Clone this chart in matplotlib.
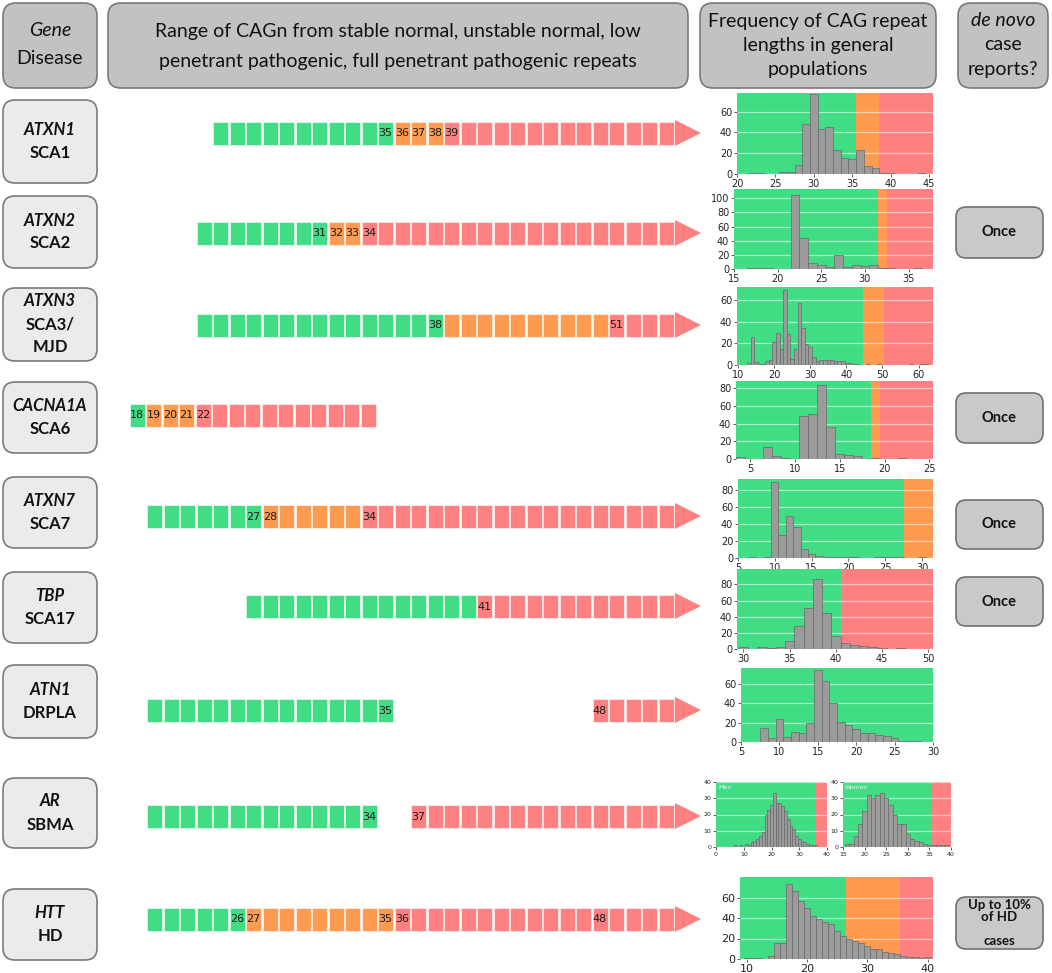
import matplotlib
matplotlib.use("Agg")
import matplotlib.pyplot as plt
from matplotlib.patches import FancyBboxPatch

# ---------------------------------------------------------------- data
genes = ["ATXN1", "ATXN2", "ATXN3", "CACNA1A", "ATXN7", "TBP", "ATN1", "AR", "HTT"]
diseases = ["SCA1", "SCA2", "SCA3/\nMJD", "SCA6", "SCA7", "SCA17", "DRPLA", "SBMA", "HD"]
de_novo = ["", "Once", "", "Once", "Once", "Once", "", "", "Up to 10%\nof HD\n\ncases"]

header_texts = [
    [("Gene", "italic"), ("Disease", "normal")],
    [("Range of CAGn from stable normal, unstable normal, low", "normal"),
     ("penetrant pathogenic, full penetrant pathogenic repeats", "normal")],
    [("Frequency of CAG repeat", "normal"), ("lengths in general", "normal"), ("populations", "normal")],
    [("de novo", "italic"), ("case", "normal"), ("reports?", "normal")],
]

# repeat schematic: g stable normal, o unstable normal / low penetrant, r pathogenic, _ not drawn
repeat_segments = [
    [("g", 11), ("o", 3), ("r", 14)],
    [("g", 8), ("o", 2), ("r", 19)],
    [("g", 15), ("o", 10), ("r", 4)],
    [("g", 1), ("o", 3), ("r", 11)],
    [("g", 7), ("o", 6), ("r", 19)],
    [("g", 14), ("r", 12)],
    [("g", 15), ("_", 12), ("r", 5)],
    [("g", 14), ("_", 2), ("r", 16)],
    [("g", 6), ("o", 9), ("r", 17)],
]
repeat_labels = [
    {10: "35", 11: "36", 12: "37", 13: "38", 14: "39"},
    {7: "31", 8: "32", 9: "33", 10: "34"},
    {14: "38", 25: "51"},
    {0: "18", 1: "19", 2: "20", 3: "21", 4: "22"},
    {6: "27", 7: "28", 13: "34"},
    {14: "41"},
    {14: "35", 27: "48"},
    {13: "34", 16: "37"},
    {5: "26", 6: "27", 14: "35", 15: "36", 27: "48"},
]
has_arrow = [True, True, True, False, True, True, True, True, True]

# population histograms: repeat length -> count
sca1_len = [22, 23, 26, 27, 28, 29, 30, 31, 32, 33, 34, 35, 36, 37, 38, 39, 40, 44]
sca1_cnt = [1, 1, 2, 2, 9, 48, 77, 43, 45, 23, 15, 14, 23, 8, 6, 1, 1, 1]
sca2_len = [17, 18, 19, 22, 23, 24, 25, 26, 27, 28, 29, 30, 31, 32, 33, 36]
sca2_cnt = [1, 1, 1, 104, 44, 9, 6, 3, 20, 3, 6, 4, 5, 2, 2, 1]
sca3_len = [13, 14, 15, 16, 17, 18, 19, 20, 21, 22, 23, 24, 25, 26, 27, 28, 29, 30,
            31, 32, 33, 34, 35, 36, 37, 38, 39, 40, 41, 42, 43, 46, 49, 58, 61, 62]
sca3_cnt = [2, 26, 3, 1, 1, 4, 5, 21, 30, 15, 69, 29, 6, 15, 57, 34, 19, 17,
            7, 4, 5, 5, 5, 5, 4, 4, 4, 2, 2, 1, 1, 1, 1, 1, 1, 1]
sca6_len = [4, 7, 8, 9, 11, 12, 13, 14, 15, 16, 17, 19, 22]
sca6_cnt = [2, 13, 3, 1, 49, 51, 83, 36, 6, 4, 3, 1, 1]
sca7_len = [7, 9, 10, 11, 12, 13, 14, 15, 16, 17, 18, 19, 20, 21, 24, 25, 26, 27, 30]
sca7_cnt = [1, 1, 90, 27, 49, 37, 11, 5, 2, 1, 1, 1, 1, 1, 1, 1, 1, 1, 1]
sca17_len = [30, 32, 33, 34, 35, 36, 37, 38, 39, 40, 41, 42, 43, 44, 45, 47]
sca17_cnt = [3, 3, 1, 2, 10, 29, 51, 87, 44, 16, 8, 5, 4, 3, 1, 1]
drpla_len = [8, 9, 10, 11, 12, 13, 14, 15, 16, 17, 18, 19, 20, 21, 22, 23, 24, 25, 26, 27, 28]
drpla_cnt = [14, 4, 24, 5, 10, 9, 20, 74, 63, 40, 21, 17, 13, 9, 9, 7, 6, 4, 1, 1, 1]
sbma_men_len = [7, 9, 11, 12, 13, 14, 15, 16, 17, 18, 19, 20, 21, 22, 23, 24, 25, 26,
                27, 28, 29, 30, 31, 32, 33, 34, 35, 36]
sbma_men_cnt = [1, 1, 2, 1, 3, 4, 5, 7, 9, 20, 23, 26, 33, 27, 27, 25, 22, 17,
                13, 11, 7, 5, 4, 3, 2, 1, 1, 1]
sbma_women_len = [16, 17, 18, 19, 20, 21, 22, 23, 24, 25, 26, 27, 28, 29, 30, 31, 32,
                  33, 34, 35, 36, 37, 38, 39]
sbma_women_cnt = [2, 2, 7, 14, 22, 32, 30, 32, 33, 30, 26, 20, 14, 14, 8, 5, 4,
                  3, 2, 1, 1, 1, 1, 1]
hd_len = [10, 11, 12, 14, 15, 16, 17, 18, 19, 20, 21, 22, 23, 24, 25, 26, 27, 28,
          29, 30, 31, 32, 33, 34, 35, 36, 37, 38, 39, 40]
hd_cnt = [1, 1, 1, 3, 16, 16, 73, 66, 57, 50, 42, 39, 36, 34, 27, 22, 20, 18,
          16, 13, 10, 10, 7, 6, 5, 3, 2, 2, 1, 2]

# category cut-offs in the histograms and the zone order
sca1_cuts, sca1_zones = [35.5, 38.5], ["g", "o", "r"]
sca2_cuts, sca2_zones = [31.5, 32.5], ["g", "o", "r"]
sca3_cuts, sca3_zones = [44.5, 50.5], ["g", "o", "r"]
sca6_cuts, sca6_zones = [18.5, 19.5], ["g", "o", "r"]
sca7_cuts, sca7_zones = [27.5], ["g", "o"]
sca17_cuts, sca17_zones = [40.5], ["g", "r"]
drpla_cuts, drpla_zones = [], ["g"]
sbma_cuts, sbma_zones = [35.5], ["g", "r"]
hd_cuts, hd_zones = [26.5, 35.5], ["g", "o", "r"]

# ---------------------------------------------------------------- style / layout
W, H = 1052, 973
ZC = {"g": "#40DD84", "o": "#FF9B50", "r": "#FF8080"}
FONT = "Lato"

fig = plt.figure(figsize=(W / 100, H / 100), dpi=100)
ax = fig.add_axes([0, 0, 1, 1])
ax.set_xlim(0, W)
ax.set_ylim(H, 0)
ax.axis("off")


def rbox(x0, y0, x1, y1, fc, ec, r=12, lw=1.2):
    ax.add_patch(FancyBboxPatch((x0, y0), x1 - x0, y1 - y0,
                                boxstyle=f"round,pad=0,rounding_size={r}",
                                fc=fc, ec=ec, lw=lw, zorder=2))


# header
header_boxes = [(3, 3, 97, 88), (108, 3, 688, 88), (700, 3, 936, 88), (958, 3, 1048, 88)]
header_line_y = [[31, 58], [31, 61], [21, 45, 69], [21, 45, 69]]
for (x0, y0, x1, y1), lines, ys in zip(header_boxes, header_texts, header_line_y):
    rbox(x0, y0, x1, y1, "#c2c2c2", "#7a7a7a", r=13)
    for (t, st), yy in zip(lines, ys):
        ax.text((x0 + x1) / 2, yy, t, ha="center", va="center", fontsize=14,
                style=st, family=FONT, color="#111111", zorder=3)

# row label boxes
label_box_y = [(100, 183), (196, 268), (288, 361), (382, 453), (477, 548),
               (572, 643), (665, 738), (778, 848), (889, 960)]
for g, d, (y0, y1) in zip(genes, diseases, label_box_y):
    rbox(3, y0, 97, y1, "#ebebeb", "#7a7a7a", r=12)
    lines = [(g, "italic")] + [(s, "normal") for s in d.split("\n")]
    yc = (y0 + y1) / 2
    step = 23
    for k, (t, st) in enumerate(lines):
        yy = yc + (k - (len(lines) - 1) / 2) * step
        ax.text(50, yy, t, ha="center", va="center", fontsize=12, weight="bold",
                style=st, family=FONT, color="#111111", zorder=3)

# de novo boxes
denovo_box_y = [None, (207, 258), None, (393, 443), (500, 549), (577, 626),
                None, None, (897, 949)]
for txt, yy in zip(de_novo, denovo_box_y):
    if not txt:
        continue
    y0, y1 = yy
    rbox(956, y0, 1043, y1, "#c9c9c9", "#707070", r=10)
    lines = txt.split("\n")
    yc = (y0 + y1) / 2
    step = 12 if len(lines) > 1 else 0
    fs = 9.5 if len(lines) > 1 else 10.5
    for k, t in enumerate(lines):
        ax.text(999.5, yc + (k - (len(lines) - 1) / 2) * step, t, ha="center",
                va="center", fontsize=fs, weight="bold", family=FONT,
                color="#111111", zorder=3)

# repeat schematics
bar_y = [133, 233, 325, 415, 516, 606, 710, 816, 919]
pitch, bw, bh = 16.5, 15.0, 23.0
for i, segs in enumerate(repeat_segments):
    codes = []
    for c, n in segs:
        codes += [c] * n
    n = len(codes)
    x0 = 675 - n * pitch if has_arrow[i] else 129.5
    yc = bar_y[i]
    idx = [k for k, c in enumerate(codes) if c != "_"]
    xs = [x0 + k * pitch + bw / 2 for k in idx]
    ax.bar(xs, [bh] * len(xs), width=bw, bottom=yc - bh / 2,
           color=[ZC[codes[k]] for k in idx], edgecolor="#ffffff", lw=0.4, zorder=2)
    for k, lab in repeat_labels[i].items():
        ax.text(x0 + k * pitch + bw / 2, yc + 0.5, lab, ha="center", va="center",
                fontsize=8, color="#1a1a1a", zorder=3)
    if has_arrow[i]:
        xe = x0 + n * pitch
        ax.fill([xe, xe + 26, xe], [yc - 13, yc, yc + 13], color=ZC["r"], lw=0, zorder=2)


# histograms
def hist(rect, lens, cnts, xlim, ylim, cuts, zones, xticks, yticks, fs, label=None):
    x0, y0, x1, y1 = rect
    h = fig.add_axes([x0 / W, 1 - y1 / H, (x1 - x0) / W, (y1 - y0) / H])
    edges = [xlim[0]] + list(cuts) + [xlim[1]]
    for a, b, c in zip(edges[:-1], edges[1:], zones):
        h.axvspan(a, b, color=ZC[c], lw=0, zorder=0)
    h.bar(lens, cnts, width=1.0, color="#9b9b9b", edgecolor="#6a6a6a", lw=0.5, zorder=2)
    h.set_xlim(xlim)
    h.set_ylim(ylim)
    h.set_xticks(xticks)
    h.set_yticks(yticks)
    h.set_axisbelow(True)
    h.yaxis.grid(True, color="white", alpha=0.55, lw=0.9)
    for s in h.spines.values():
        s.set_visible(False)
    h.tick_params(labelsize=fs, length=2.5, width=0.6, color="#444444",
                  labelcolor="#222222", pad=1)
    if label:
        h.text(0.02, 0.95, label, transform=h.transAxes, ha="left", va="top",
               fontsize=4.5, color="#f4f4f4")
    return h


hist((737, 93, 933, 174), sca1_len, sca1_cnt, (20, 45.5), (0, 78), sca1_cuts, sca1_zones,
     [20, 25, 30, 35, 40, 45], [0, 20, 40, 60], 7)
hist((734, 189, 933, 269), sca2_len, sca2_cnt, (15, 37.8), (0, 113), sca2_cuts, sca2_zones,
     [15, 20, 25, 30, 35], [0, 20, 40, 60, 80, 100], 7)
hist((737, 287, 933, 365), sca3_len, sca3_cnt, (9.7, 64), (0, 72), sca3_cuts, sca3_zones,
     [10, 20, 30, 40, 50, 60], [0, 20, 40, 60], 7)
hist((736, 381, 933, 459), sca6_len, sca6_cnt, (3.45, 25.4), (0, 88), sca6_cuts, sca6_zones,
     [5, 10, 15, 20, 25], [0, 20, 40, 60, 80], 7)
hist((738, 479, 933, 558), sca7_len, sca7_cnt, (5, 31.5), (0, 93), sca7_cuts, sca7_zones,
     [5, 10, 15, 20, 25, 30], [0, 20, 40, 60, 80], 7)
hist((737, 569, 933, 649), sca17_len, sca17_cnt, (29.3, 50.5), (0, 99), sca17_cuts, sca17_zones,
     [30, 35, 40, 45, 50], [0, 20, 40, 60, 80], 7)
hist((741, 668, 933, 742), drpla_len, drpla_cnt, (5, 30), (0, 76), drpla_cuts, drpla_zones,
     [5, 10, 15, 20, 25, 30], [0, 20, 40, 60], 7)
hist((716, 782, 827, 847), sbma_men_len, sbma_men_cnt, (0, 40), (0, 40), sbma_cuts, sbma_zones,
     [0, 10, 20, 30, 40], [0, 10, 20, 30, 40], 4.5, label="Men")
hist((843, 782, 951, 847), sbma_women_len, sbma_women_cnt, (15, 40), (0, 40), sbma_cuts, sbma_zones,
     [15, 20, 25, 30, 35, 40], [0, 10, 20, 30, 40], 4.5, label="Women")
hist((740, 877, 933, 959), hd_len, hd_cnt, (8.9, 40.9), (0, 80), hd_cuts, hd_zones,
     [10, 20, 30, 40], [0, 20, 40, 60], 8)

fig.savefig("out.png", dpi=100)
